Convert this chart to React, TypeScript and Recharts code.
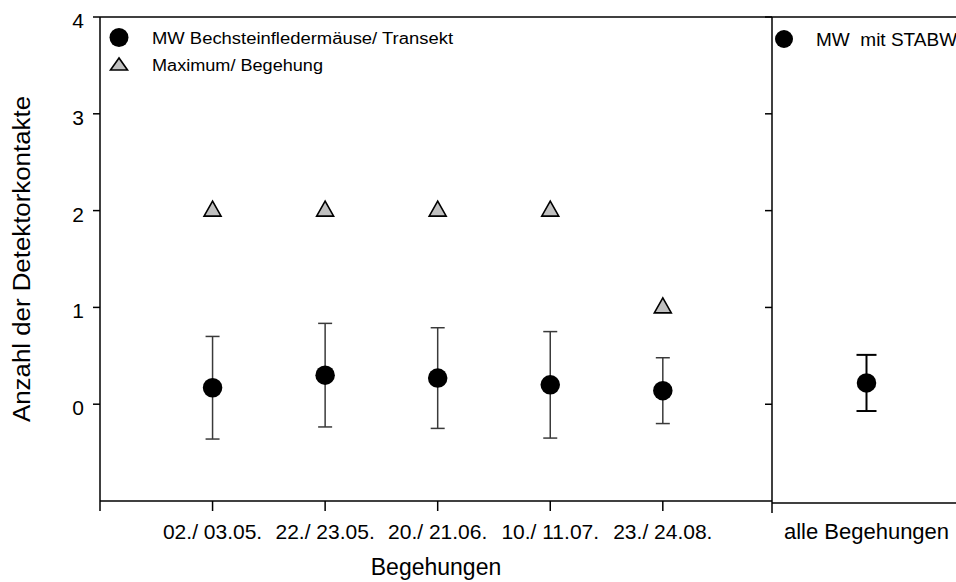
import React from 'react';
import { ScatterChart, Scatter, XAxis, YAxis, ErrorBar, ReferenceLine, Legend, Label } from 'recharts';

const FONT = '"Liberation Sans", Arial, Helvetica, sans-serif';

const categories = ['02./ 03.05.', '22./ 23.05.', '20./ 21.06.', '10./ 11.07.', '23./ 24.08.'];
const meanValues = [0.17, 0.30, 0.27, 0.20, 0.14];
const sdValues = [0.53, 0.535, 0.52, 0.55, 0.34];
const maxValues = [2, 2, 2, 2, 1];
const overallCategory = ['alle Begehungen'];
const overallMean = [0.22];
const overallSd = [0.29];
const yTicks = [0, 1, 2, 3, 4];
const seriesNames = ['MW Bechsteinfledermäuse/ Transekt', 'Maximum/ Begehung', 'MW  mit STABW'];
const axisTitles = ['Anzahl der Detektorkontakte', 'Begehungen'];

const meanData = categories.map((c, i) => ({ x: i + 1, y: meanValues[i], err: sdValues[i], name: c }));
const maxData = categories.map((c, i) => ({ x: i + 1, y: maxValues[i], name: c }));
const overallData = overallCategory.map((c, i) => ({ x: i + 1, y: overallMean[i], err: overallSd[i], name: c }));

const Dot = (p: any) => <circle cx={p.cx} cy={p.cy} r={9.75} fill="#000" />;
const Tri = (p: any) => (
  <polygon
    points={`${p.cx},${p.cy - 9.5} ${p.cx - 8.5},${p.cy + 5.5} ${p.cx + 8.5},${p.cy + 5.5}`}
    fill="#c0c0c0"
    stroke="#000"
    strokeWidth={1.6}
    strokeLinejoin="miter"
  />
);

const XTick = (p: any) => {
  const label = categories[p.payload.value - 1];
  if (!label) return <g />;
  return (
    <text x={p.x} y={p.y} dy={26} textAnchor="middle" fontSize={21} fontFamily={FONT} fill="#000">
      {label}
    </text>
  );
};

const RightXTick = (p: any) => {
  if (p.payload.value === 0) {
    return <line x1={p.x} x2={p.x} y1={p.y - 12} y2={p.y - 2} stroke="#000" strokeWidth={1.5} />;
  }
  const label = overallCategory[p.payload.value - 1];
  if (!label) return <g />;
  return (
    <text x={p.x} y={p.y} dy={24} textAnchor="middle" fontSize={22} fontFamily={FONT} fill="#000">
      {label}
    </text>
  );
};

const YTick = (p: any) => (
  <text x={p.x} y={p.y} dy={11} textAnchor="end" fontSize={21} fontFamily={FONT} fill="#000">
    {p.payload.value}
  </text>
);

const Empty = () => <g />;

const YTitle = (p: any) => {
  const vb = p.viewBox || { x: 0, y: 17, width: 100, height: 484 };
  const x = vb.x + 22;
  const y = vb.y + vb.height / 2;
  return (
    <text
      x={x}
      y={y}
      transform={`rotate(-90 ${x} ${y})`}
      textAnchor="middle"
      dominantBaseline="central"
      fontSize={23}
      fontFamily={FONT}
      fill="#000"
      textLength={326}
      lengthAdjust="spacingAndGlyphs"
    >
      {axisTitles[0]}
    </text>
  );
};

const XTitle = (p: any) => {
  const vb = p.viewBox || { x: 100, y: 501, width: 672, height: 81 };
  return (
    <text x={vb.x + vb.width / 2} y={vb.y + 74} textAnchor="middle" fontSize={23} fontFamily={FONT} fill="#000">
      {axisTitles[1]}
    </text>
  );
};

const LeftLegend = () => (
  <svg width={420} height={60} style={{ display: 'block' }}>
    <circle cx={19} cy={17.5} r={9.5} fill="#000" />
    <text x={52} y={23.5} fontSize={16} fontFamily={FONT} fill="#000" textLength={301} lengthAdjust="spacingAndGlyphs">
      {seriesNames[0]}
    </text>
    <polygon points="19,38 10.5,50 27.5,50" fill="#c0c0c0" stroke="#000" strokeWidth={1.6} />
    <text x={52} y={51} fontSize={16} fontFamily={FONT} fill="#000" textLength={171} lengthAdjust="spacingAndGlyphs">
      {seriesNames[1]}
    </text>
  </svg>
);

const RightLegend = () => (
  <svg width={220} height={40} style={{ display: 'block' }}>
    <circle cx={14} cy={19} r={9} fill="#000" />
    <text x={46} y={26} fontSize={19} fontFamily={FONT} fill="#000" style={{ whiteSpace: 'pre' }}>
      {seriesNames[2]}
    </text>
  </svg>
);

const axisStyle = { stroke: '#000', strokeWidth: 1.5 };

export default function App() {
  return (
    <div style={{ position: 'fixed', left: 0, top: 0, width: 956, height: 582, overflow: 'hidden', background: '#fff' }}>
      <div style={{ position: 'absolute', left: 0, top: 0 }}>
        <ScatterChart width={780} height={582} margin={{ top: 17, right: 8, bottom: 0, left: 0 }}>
          <XAxis
            type="number"
            dataKey="x"
            domain={[0, 5.97]}
            ticks={[0, 1, 2, 3, 4, 5]}
            interval={0}
            allowDataOverflow
            height={81}
            tickSize={10}
            tickMargin={2}
            axisLine={axisStyle}
            tickLine={axisStyle}
            tick={<XTick />}
          >
            <Label content={XTitle} />
          </XAxis>
          <YAxis
            type="number"
            dataKey="y"
            domain={[-1, 4]}
            ticks={yTicks}
            interval={0}
            allowDataOverflow
            width={100}
            tickSize={7}
            tickMargin={9}
            axisLine={axisStyle}
            tickLine={axisStyle}
            tick={<YTick />}
          >
            <Label content={YTitle} />
          </YAxis>
          <ReferenceLine y={4} stroke="#000" strokeWidth={1.5} />
          <Scatter name={seriesNames[0]} data={meanData} shape={Dot} isAnimationActive={false}>
            <ErrorBar dataKey="err" direction="y" width={7} stroke="#3a3a3a" strokeWidth={1.5} isAnimationActive={false} />
          </Scatter>
          <Scatter name={seriesNames[1]} data={maxData} shape={Tri} isAnimationActive={false} />
          <Legend
            content={LeftLegend}
            layout="vertical"
            align="center"
            verticalAlign="middle"
            wrapperStyle={{ left: 100, top: 20, width: 420, height: 60 }}
          />
        </ScatterChart>
      </div>
      <div style={{ position: 'absolute', left: 700, top: 0 }}>
        <ScatterChart width={300} height={582} margin={{ top: 17, right: 39, bottom: 0, left: 0 }}>
          <XAxis
            type="number"
            dataKey="x"
            domain={[0, 2]}
            ticks={[0, 1]}
            interval={0}
            allowDataOverflow
            height={79}
            tickSize={10}
            tickMargin={2}
            axisLine={axisStyle}
            tickLine={false}
            tick={<RightXTick />}
          />
          <YAxis
            type="number"
            dataKey="y"
            domain={[-1.02, 4]}
            ticks={yTicks}
            interval={0}
            allowDataOverflow
            width={72}
            tickSize={7}
            axisLine={axisStyle}
            tickLine={axisStyle}
            tick={<Empty />}
          />
          <ReferenceLine y={4} stroke="#000" strokeWidth={1.5} />
          <Scatter name={seriesNames[2]} data={overallData} shape={Dot} isAnimationActive={false}>
            <ErrorBar dataKey="err" direction="y" width={10} stroke="#000" strokeWidth={2} isAnimationActive={false} />
          </Scatter>
          <Legend
            content={RightLegend}
            layout="vertical"
            align="center"
            verticalAlign="middle"
            wrapperStyle={{ left: 70, top: 20, width: 220, height: 40 }}
          />
        </ScatterChart>
      </div>
    </div>
  );
}
